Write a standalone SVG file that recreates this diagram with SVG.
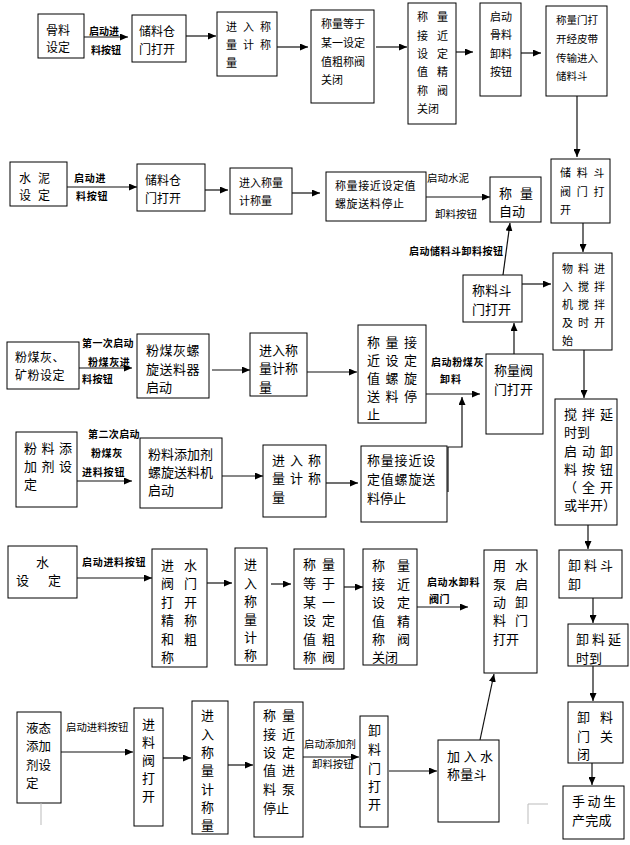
<svg xmlns="http://www.w3.org/2000/svg" width="630" height="845" viewBox="0 0 630 845">
<style>
.bx{fill:#fff;stroke:#000;stroke-width:1}
text{font-family:"Noto Sans CJK SC","Noto Sans CJK JP",sans-serif;fill:#000;dominant-baseline:central}
.f13{font-size:13px}
.f125{font-size:12.5px}
.f12{font-size:12px}
.f11{font-size:11px}
.f105{font-size:10.5px}
.lb{font-size:10px;font-weight:bold}
.ln{font-size:10.4px}
.cn line,.cn polyline{stroke:#111;stroke-width:1.2;fill:none;marker-end:url(#ah)}
.gr{stroke:#bbb;stroke-width:1;fill:none}
</style>
<defs>
<marker id="ah" markerUnits="userSpaceOnUse" markerWidth="8" markerHeight="7" refX="8" refY="3.5" orient="auto">
<path d="M0,0 L8,3.5 L0,7 z" fill="#000"/>
</marker>
</defs>
<rect width="630" height="845" fill="#fff"/>

<!-- Row 1 -->
<g id="n_guliao"><rect class="bx" x="38" y="14" width="46" height="44"/>
<text class="f12" x="46" y="29">骨料</text><text class="f12" x="46" y="46">设定</text></g>
<g id="n_cang1"><rect class="bx" x="132" y="15" width="54" height="47"/>
<text class="f12" x="139" y="30">储料仓</text><text class="f12" x="139" y="48">门打开</text></g>
<g id="n_jr1"><rect class="bx" x="217" y="12" width="60" height="64"/>
<text class="f11" x="226" y="26" letter-spacing="6">进入称</text><text class="f11" x="226" y="44" letter-spacing="6">量计称</text><text class="f11" x="226" y="62">量</text></g>
<g id="n_cu1"><rect class="bx" x="311" y="10" width="63" height="93"/>
<text class="f11" x="321" y="23">称量等于</text><text class="f11" x="321" y="42">某一设定</text><text class="f11" x="321" y="61">值粗称阀</text><text class="f11" x="321" y="79">关闭</text></g>
<g id="n_jing1"><rect class="bx" x="408" y="3" width="48" height="121"/>
<text class="f11" x="417" y="16">称</text><text class="f11" x="437" y="16">量</text>
<text class="f11" x="417" y="35">接</text><text class="f11" x="437" y="35">近</text>
<text class="f11" x="417" y="53">设</text><text class="f11" x="437" y="53">定</text>
<text class="f11" x="417" y="71">值</text><text class="f11" x="437" y="71">精</text>
<text class="f11" x="417" y="90">称</text><text class="f11" x="437" y="90">阀</text>
<text class="f11" x="417" y="108">关闭</text></g>
<g id="n_qd1"><rect class="bx" x="480" y="3" width="41" height="93"/>
<text class="f11" x="490" y="16">启动</text><text class="f11" x="490" y="34">骨料</text><text class="f11" x="490" y="53">卸料</text><text class="f11" x="490" y="71">按钮</text></g>
<g id="n_pd"><rect class="bx" x="546" y="6" width="61" height="90"/>
<text class="f105" x="556" y="19">称量门打</text><text class="f105" x="556" y="38">开经皮带</text><text class="f105" x="556" y="57">传输进入</text><text class="f105" x="556" y="75">储料斗</text></g>

<!-- Row 2 -->
<g id="n_sn"><rect class="bx" x="10" y="162" width="57" height="44"/>
<text class="f12" x="19" y="177" letter-spacing="7">水泥</text><text class="f12" x="19" y="194" letter-spacing="7">设定</text></g>
<g id="n_cang2"><rect class="bx" x="137" y="164" width="68" height="47"/>
<text class="f12" x="145" y="179">储料仓</text><text class="f12" x="145" y="197">门打开</text></g>
<g id="n_jr2"><rect class="bx" x="230" y="168" width="62" height="46"/>
<text class="f11" x="239" y="182">进入称量</text><text class="f11" x="239" y="200">计称量</text></g>
<g id="n_lx2"><rect class="bx" x="326" y="172" width="100" height="49"/>
<text class="f11" x="335" y="185" letter-spacing="0.6">称量接近设定值</text><text class="f11" x="335" y="203" letter-spacing="0.6">螺旋送料停止</text></g>
<g id="n_zd"><rect class="bx" x="490" y="177" width="51" height="45"/>
<text class="f13" x="499" y="192" letter-spacing="8">称量</text><text class="f13" x="499" y="210">自动</text></g>
<g id="n_cld"><rect class="bx" x="551" y="159" width="59" height="64"/>
<text class="f11" x="560" y="172" letter-spacing="5.7">储料斗</text><text class="f11" x="560" y="191" letter-spacing="5.7">阀门打</text><text class="f11" x="560" y="209">开</text></g>
<g id="n_clm"><rect class="bx" x="463" y="275" width="59" height="47"/>
<text class="f13" x="472" y="289" letter-spacing="0.3">称料斗</text><text class="f13" x="472" y="308">门打开</text></g>
<g id="n_jb"><rect class="bx" x="553" y="253" width="59" height="97"/>
<text class="f11" x="562" y="268" letter-spacing="5">物料进</text><text class="f11" x="562" y="286" letter-spacing="5">入搅拌</text><text class="f11" x="562" y="304" letter-spacing="5">机搅拌</text><text class="f11" x="562" y="322" letter-spacing="5">及时开</text><text class="f11" x="562" y="340">始</text></g>

<!-- Row 3 -->
<g id="n_fmh"><rect class="bx" x="7" y="342" width="72" height="47"/>
<text class="f12" x="15" y="356" letter-spacing="0.5">粉煤灰、</text><text class="f12" x="15" y="374" letter-spacing="0.5">矿粉设定</text></g>
<g id="n_fmhlx"><rect class="bx" x="137" y="334" width="72" height="64"/>
<text class="f13" x="146" y="349" letter-spacing="0.5">粉煤灰螺</text><text class="f13" x="146" y="368" letter-spacing="0.5">旋送料器</text><text class="f13" x="146" y="386">启动</text></g>
<g id="n_jr3"><rect class="bx" x="250" y="333" width="57" height="63"/>
<text class="f13" x="259" y="349">进入称</text><text class="f13" x="259" y="367">量计称</text><text class="f13" x="259" y="386">量</text></g>
<g id="n_jj3"><rect class="bx" x="358" y="325" width="68" height="98"/>
<text class="f13" x="367" y="341" letter-spacing="5.5">称量接</text><text class="f13" x="367" y="359" letter-spacing="5.5">近设定</text><text class="f13" x="367" y="377" letter-spacing="5.5">值螺旋</text><text class="f13" x="367" y="395" letter-spacing="5.5">送料停</text><text class="f13" x="367" y="413">止</text></g>
<g id="n_fm"><rect class="bx" x="486" y="354" width="57" height="80"/>
<text class="f13" x="494" y="369">称量阀</text><text class="f13" x="494" y="388">门打开</text></g>
<g id="n_jbys"><rect class="bx" x="555" y="399" width="62" height="126"/>
<text class="f13" x="564" y="413" letter-spacing="5">搅拌延</text><text class="f13" x="564" y="431">时到</text><text class="f13" x="564" y="450" letter-spacing="5">启动卸</text><text class="f13" x="564" y="468" letter-spacing="5">料按钮</text><text class="f13" x="564" y="486" letter-spacing="5">（全开</text><text class="f13" x="564" y="504">或半开）</text></g>

<!-- Row 4 -->
<g id="n_fltj"><rect class="bx" x="16" y="432" width="61" height="75"/>
<text class="f13" x="24" y="447" letter-spacing="4.5">粉料添</text><text class="f13" x="24" y="465" letter-spacing="4.5">加剂设</text><text class="f13" x="24" y="483">定</text></g>
<g id="n_fllx"><rect class="bx" x="140" y="438" width="82" height="70"/>
<text class="f13" x="148" y="453">粉料添加剂</text><text class="f13" x="148" y="471">螺旋送料机</text><text class="f13" x="148" y="489">启动</text></g>
<g id="n_jr4"><rect class="bx" x="263" y="445" width="63" height="72"/>
<text class="f13" x="272" y="459" letter-spacing="5">进入称</text><text class="f13" x="272" y="477" letter-spacing="5">量计称</text><text class="f13" x="272" y="496">量</text></g>
<g id="n_jj4"><rect class="bx" x="361" y="446" width="86" height="76"/>
<text class="f13" x="367" y="459" letter-spacing="0.8">称量接近设</text><text class="f13" x="367" y="478" letter-spacing="0.8">定值螺旋送</text><text class="f13" x="367" y="497">料停止</text></g>

<!-- Row 5 -->
<g id="n_s"><rect class="bx" x="8" y="546" width="69" height="52"/>
<text class="f13" x="36" y="561">水</text><text class="f13" x="16" y="579">设</text><text class="f13" x="48" y="579">定</text></g>
<g id="n_js"><rect class="bx" x="152" y="549" width="55" height="118"/>
<text class="f13" x="161" y="564">进</text><text class="f13" x="184" y="564">水</text>
<text class="f13" x="161" y="582">阀</text><text class="f13" x="184" y="582">门</text>
<text class="f13" x="161" y="601">打</text><text class="f13" x="184" y="601">开</text>
<text class="f13" x="161" y="619">精</text><text class="f13" x="184" y="619">称</text>
<text class="f13" x="161" y="638">和</text><text class="f13" x="184" y="638">粗</text>
<text class="f13" x="161" y="656">称</text></g>
<g id="n_jr5"><rect class="bx" x="235" y="548" width="32" height="117"/>
<text class="f13" x="244" y="563">进</text><text class="f13" x="244" y="582">入</text><text class="f13" x="244" y="600">称</text><text class="f13" x="244" y="618">量</text><text class="f13" x="244" y="636">计</text><text class="f13" x="244" y="654">称</text></g>
<g id="n_cu5"><rect class="bx" x="294" y="549" width="50" height="120"/>
<text class="f13" x="303" y="563">称</text><text class="f13" x="322" y="563">量</text>
<text class="f13" x="303" y="582">等</text><text class="f13" x="322" y="582">于</text>
<text class="f13" x="303" y="601">某</text><text class="f13" x="322" y="601">一</text>
<text class="f13" x="303" y="619">设</text><text class="f13" x="322" y="619">定</text>
<text class="f13" x="303" y="638">值</text><text class="f13" x="322" y="638">粗</text>
<text class="f13" x="303" y="656">称</text><text class="f13" x="322" y="656">阀</text></g>
<g id="n_jing5"><rect class="bx" x="363" y="549" width="54" height="116"/>
<text class="f13" x="372" y="564">称</text><text class="f13" x="397" y="564">量</text>
<text class="f13" x="372" y="583">接</text><text class="f13" x="397" y="583">近</text>
<text class="f13" x="372" y="601">设</text><text class="f13" x="397" y="601">定</text>
<text class="f13" x="372" y="620">值</text><text class="f13" x="397" y="620">精</text>
<text class="f13" x="372" y="638">称</text><text class="f13" x="397" y="638">阀</text>
<text class="f13" x="372" y="656">关闭</text></g>
<g id="n_sb"><rect class="bx" x="484" y="550" width="53" height="123"/>
<text class="f13" x="493" y="564">用</text><text class="f13" x="515" y="564">水</text>
<text class="f13" x="493" y="583">泵</text><text class="f13" x="515" y="583">启</text>
<text class="f13" x="493" y="601">动</text><text class="f13" x="515" y="601">卸</text>
<text class="f13" x="493" y="619">料</text><text class="f13" x="515" y="619">门</text>
<text class="f13" x="493" y="638">打开</text></g>
<g id="n_xld"><rect class="bx" x="559" y="550" width="63" height="48"/>
<text class="f13" x="568" y="564" letter-spacing="3">卸料斗</text><text class="f13" x="568" y="583">卸</text></g>
<g id="n_xlys"><rect class="bx" x="568" y="624" width="60" height="42"/>
<text class="f13" x="576" y="638" letter-spacing="3">卸料延</text><text class="f13" x="576" y="657">时到</text></g>
<g id="n_xlgb"><rect class="bx" x="568" y="702" width="55" height="61"/>
<text class="f13" x="577" y="716">卸</text><text class="f13" x="600" y="716">料</text>
<text class="f13" x="577" y="735">门</text><text class="f13" x="600" y="735">关</text>
<text class="f13" x="577" y="753">闭</text></g>
<g id="n_wc"><rect class="bx" x="563" y="786" width="61" height="53"/>
<text class="f13" x="572" y="800" letter-spacing="2.5">手动生</text><text class="f13" x="572" y="819" letter-spacing="0.3">产完成</text></g>

<!-- Row 6 -->
<g id="n_yt"><rect class="bx" x="17" y="712" width="44" height="91"/>
<text class="f125" x="26" y="727">液态</text><text class="f125" x="26" y="745">添加</text><text class="f125" x="26" y="764">剂设</text><text class="f125" x="26" y="782">定</text></g>
<g id="n_jlf"><rect class="bx" x="134" y="708" width="29" height="118"/>
<text class="f13" x="142" y="723">进</text><text class="f13" x="142" y="741">料</text><text class="f13" x="142" y="759">阀</text><text class="f13" x="142" y="777">打</text><text class="f13" x="142" y="795">开</text></g>
<g id="n_jr6"><rect class="bx" x="192" y="701" width="36" height="133"/>
<text class="f13" x="201" y="714">进</text><text class="f13" x="201" y="733">入</text><text class="f13" x="201" y="751">称</text><text class="f13" x="201" y="769">量</text><text class="f13" x="201" y="788">计</text><text class="f13" x="201" y="806">称</text><text class="f13" x="201" y="824">量</text></g>
<g id="n_jb6"><rect class="bx" x="254" y="702" width="49" height="135"/>
<text class="f13" x="263" y="714">称</text><text class="f13" x="282" y="714">量</text>
<text class="f13" x="263" y="733">接</text><text class="f13" x="282" y="733">近</text>
<text class="f13" x="263" y="751">设</text><text class="f13" x="282" y="751">定</text>
<text class="f13" x="263" y="769">值</text><text class="f13" x="282" y="769">进</text>
<text class="f13" x="263" y="788">料</text><text class="f13" x="282" y="788">泵</text>
<text class="f13" x="263" y="807">停止</text></g>
<g id="n_xlm"><rect class="bx" x="360" y="716" width="28" height="111"/>
<text class="f13" x="368" y="729">卸</text><text class="f13" x="368" y="748">料</text><text class="f13" x="368" y="767">门</text><text class="f13" x="368" y="785">打</text><text class="f13" x="368" y="803">开</text></g>
<g id="n_js6"><rect class="bx" x="438" y="740" width="61" height="82"/>
<text class="f13" x="447" y="755" letter-spacing="3.5">加入水</text><text class="f13" x="447" y="773" letter-spacing="0.3">称量斗</text></g>

<!-- Connectors -->
<g id="connectors" class="cn">
<line x1="84" y1="37" x2="128" y2="37"/>
<line x1="186" y1="36" x2="216" y2="36"/>
<line x1="277" y1="47" x2="308" y2="47"/>
<line x1="376" y1="47" x2="407" y2="47"/>
<line x1="456" y1="52" x2="473" y2="52"/>
<line x1="521" y1="53" x2="541" y2="53"/>
<line x1="577" y1="96" x2="577" y2="157"/>
<line x1="67" y1="187" x2="137" y2="187"/>
<line x1="205" y1="190" x2="228" y2="190"/>
<line x1="292" y1="193" x2="320" y2="193"/>
<line x1="426" y1="197" x2="490" y2="197"/>
<line x1="583" y1="223" x2="583" y2="252"/>
<line x1="503" y1="275" x2="510" y2="223"/>
<line x1="522" y1="284" x2="551" y2="284"/>
<line x1="79" y1="368" x2="132" y2="368"/>
<line x1="212" y1="370" x2="250" y2="370"/>
<line x1="307" y1="372" x2="357" y2="372"/>
<line x1="426" y1="394" x2="480" y2="394"/>
<line x1="514" y1="354" x2="514" y2="323"/>
<line x1="584" y1="350" x2="584" y2="398"/>
<polyline points="448,492 448,447 462,447 462,397"/>
<line x1="77" y1="481" x2="132" y2="481"/>
<line x1="222" y1="476" x2="263" y2="476"/>
<line x1="326" y1="483" x2="358" y2="483"/>
<line x1="588" y1="525" x2="588" y2="549"/>
<line x1="77" y1="578" x2="152" y2="578"/>
<line x1="207" y1="583" x2="232" y2="583"/>
<line x1="271" y1="584" x2="291" y2="584"/>
<line x1="344" y1="587" x2="363" y2="587"/>
<line x1="417" y1="607" x2="468" y2="607"/>
<line x1="593" y1="598" x2="593" y2="623"/>
<line x1="593" y1="666" x2="593" y2="701"/>
<line x1="592" y1="763" x2="592" y2="785"/>
<line x1="61" y1="752" x2="133" y2="752"/>
<line x1="163" y1="758" x2="191" y2="758"/>
<line x1="228" y1="765" x2="253" y2="765"/>
<line x1="303" y1="757" x2="359" y2="757"/>
<line x1="389" y1="771" x2="437" y2="771"/>
<line x1="480" y1="740" x2="494" y2="674"/>
</g>

<!-- Connector labels -->
<g id="labels">
<text class="lb" x="89" y="30">启动进</text><text class="lb" x="91" y="49">料按钮</text>
<text class="lb" x="74" y="177" letter-spacing="0.7">启动进</text><text class="lb" x="76" y="195" letter-spacing="0.7">料按钮</text>
<text class="f105" x="427" y="177">启动水泥</text><text class="f105" x="435" y="213">卸料按钮</text>
<text class="lb" x="409" y="250" letter-spacing="0.5">启动储料斗卸料按钮</text>
<text class="lb" x="82" y="342" letter-spacing="0.4">第一次启动</text><text class="lb" x="88" y="361" letter-spacing="0.6">粉煤灰进</text><text class="lb" x="82" y="378" letter-spacing="0.4">料按钮</text>
<text class="lb" x="431" y="361" letter-spacing="0.6">启动粉煤灰</text><text class="lb" x="440" y="378" letter-spacing="1">卸料</text>
<text class="lb" x="88" y="433" letter-spacing="0.4">第二次启动</text><text class="lb" x="91" y="452" letter-spacing="0.6">粉煤灰</text><text class="lb" x="82" y="471" letter-spacing="0.8">进料按钮</text>
<text class="lb" x="82" y="561" letter-spacing="0.7">启动进料按钮</text>
<text class="lb" x="427" y="581" letter-spacing="0.6">启动水卸料</text><text class="lb" x="429" y="598" letter-spacing="0.6">阀门</text>
<text class="ln" x="66" y="726">启动进料按钮</text>
<text class="ln" x="304" y="743">启动添加剂</text><text class="ln" x="312" y="763">卸料按钮</text>
</g>

<g id="marks">
<line class="gr" x1="41" y1="803" x2="41" y2="825"/>
<polyline class="gr" points="548,804 528,804 528,824"/>
</g>
</svg>
